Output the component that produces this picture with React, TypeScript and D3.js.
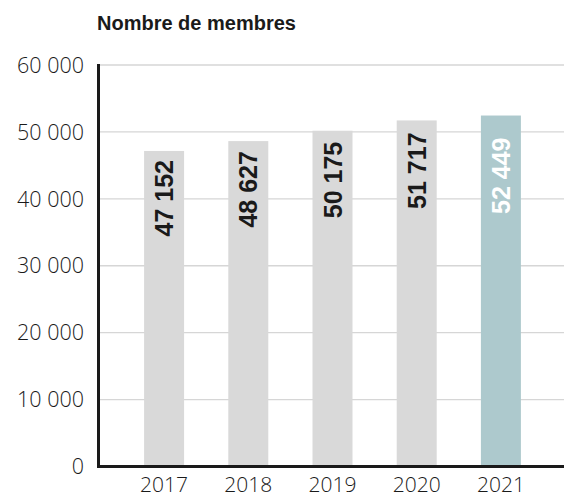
import React from "react";
import * as d3 from "d3";

const years = ["2017", "2018", "2019", "2020", "2021"];
const members = [47152, 48627, 50175, 51717, 52449];
const highlight = [false, false, false, false, true];
const yTicks = [0, 10000, 20000, 30000, 40000, 50000, 60000];
const title = "Nombre de membres";

const W = 564;
const H = 498;
const FONT = "'Liberation Sans', Arial, sans-serif";
const LIGHT = "'Open Sans', 'Liberation Sans', sans-serif";

const fmt = (v: number) => d3.format(",")(v).replace(/,/g, " ");

export default function App() {
  const x = d3
    .scaleBand<string>()
    .domain(years)
    .range([122, 543])
    .paddingInner(0.525)
    .paddingOuter(0.2625);
  const y = d3.scaleLinear().domain([0, 60000]).range([466.5, 65]);
  const axisX = 98.5;

  return (
    <svg
      width={W}
      height={H}
      style={{ position: "absolute", left: 0, top: 0, background: "#fff" }}
    >
      <text x={97} y={30} fontFamily={FONT} fontWeight="bold" fontSize={20} fill="#1a1a1a">
        {title}
      </text>
      {yTicks.map((t) => (
        <g key={t}>
          {t > 0 && (
            <line x1={axisX} x2={W} y1={y(t)} y2={y(t)} stroke="#d6d6d6" strokeWidth={1.3} />
          )}
          <text
            x={84}
            y={y(t)}
            dy="0.36em"
            textAnchor="end"
            fontFamily={LIGHT}
            fontWeight={300}
            fontSize={21.5}
            fill="#1a1a1a"
          >
            {fmt(t)}
          </text>
        </g>
      ))}
      {years.map((yr, i) => {
        const bx = x(yr)!;
        const bw = x.bandwidth();
        const top = y(members[i]);
        const cx = bx + bw / 2;
        const off = highlight[i] ? 22 : 9 + i;
        return (
          <g key={yr}>
            <rect
              x={bx}
              y={top}
              width={bw}
              height={y(0) - top}
              fill={highlight[i] ? "#adc9cd" : "#d9d9d9"}
            />
            <text
              transform={`translate(${cx},${top + off}) rotate(-90)`}
              dy="0.36em"
              textAnchor="end"
              fontFamily={FONT}
              fontWeight="bold"
              fontSize={25}
              fill={highlight[i] ? "#ffffff" : "#1a1a1a"}
            >
              {fmt(members[i])}
            </text>
            <text
              x={cx}
              y={492}
              textAnchor="middle"
              fontFamily={LIGHT}
              fontWeight={300}
              fontSize={21}
              fill="#1a1a1a"
            >
              {yr}
            </text>
          </g>
        );
      })}
      <line x1={axisX} x2={axisX} y1={64} y2={y(0)} stroke="#1a1a1a" strokeWidth={3} />
      <line x1={97} x2={W} y1={y(0)} y2={y(0)} stroke="#1a1a1a" strokeWidth={3} />
    </svg>
  );
}
